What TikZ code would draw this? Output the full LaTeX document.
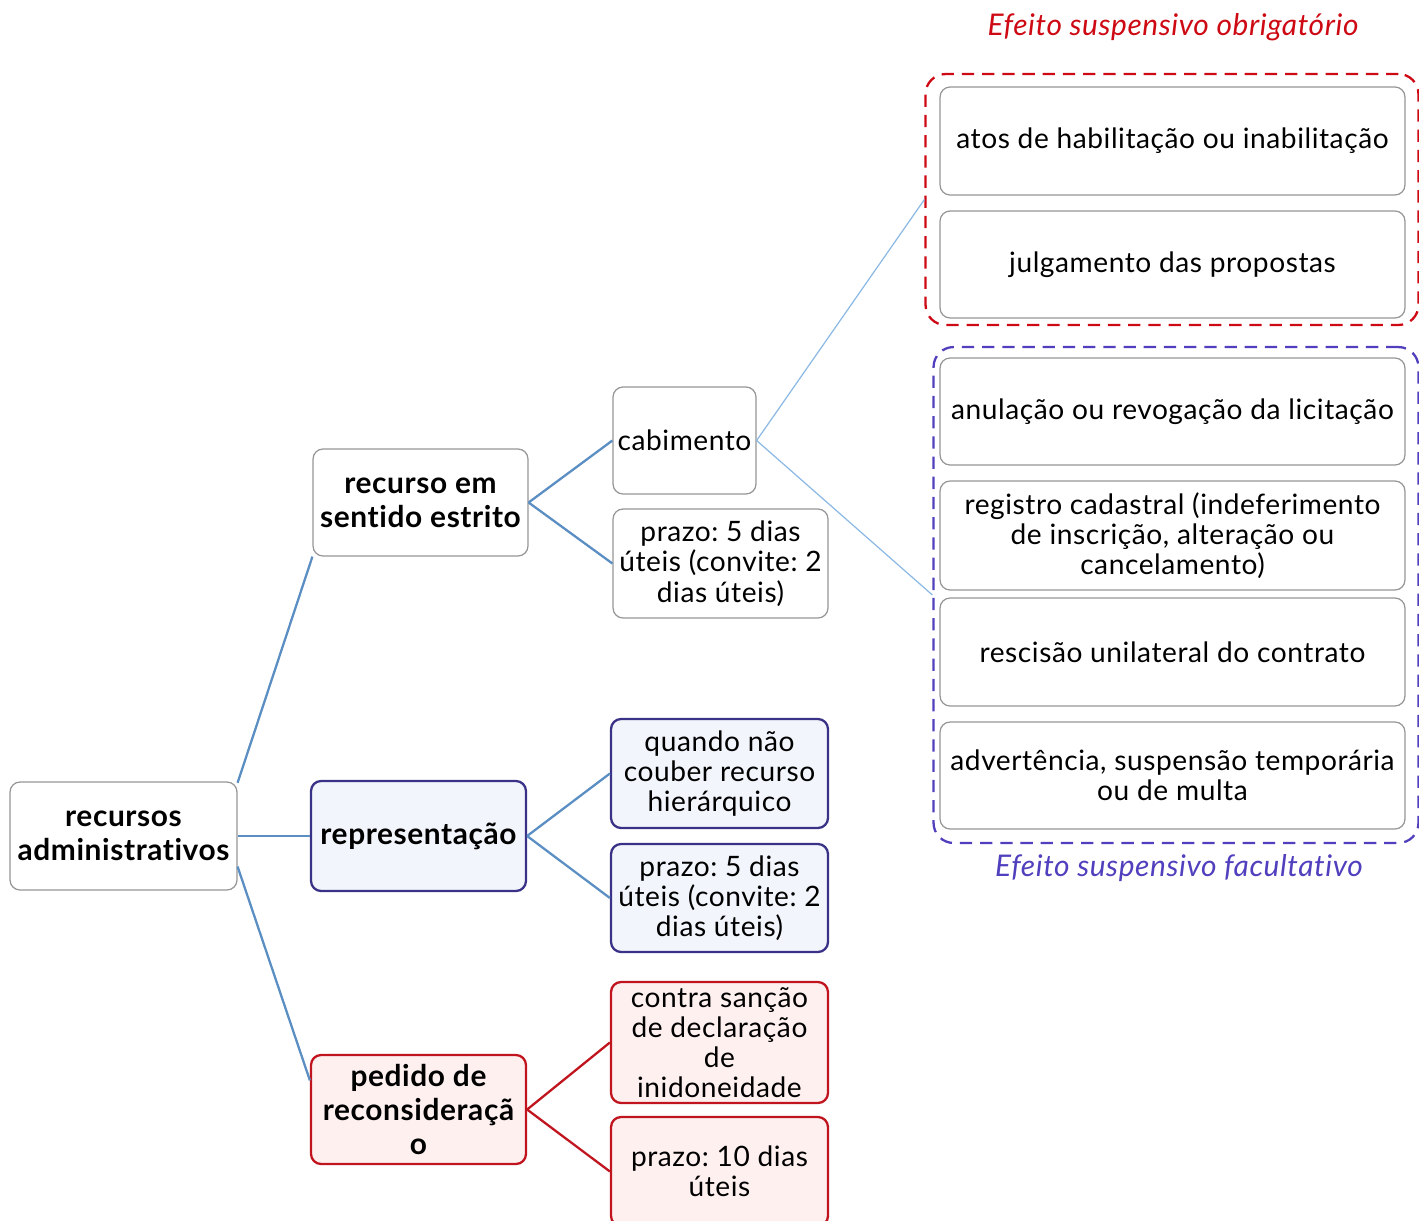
\documentclass[tikz,border=0pt]{standalone}
\usepackage{fontspec}
\setmainfont{Lato}[LetterSpace=2, Ligatures=NoCommon]
\frenchspacing
\definecolor{boxgray}{RGB}{150,150,150}
\definecolor{linkblue}{RGB}{91,142,194}
\definecolor{lightlink}{RGB}{140,185,228}
\definecolor{repborder}{RGB}{58,50,135}
\definecolor{repfill}{RGB}{243,245,252}
\definecolor{pedborder}{RGB}{192,20,30}
\definecolor{pedfill}{RGB}{255,240,240}
\definecolor{obrigred}{RGB}{205,10,20}
\definecolor{facultblue}{RGB}{80,64,190}
\begin{document}
\begin{tikzpicture}[x=0.02cm, y=-0.02cm,
    box/.style={draw=boxgray, line width=0.7pt, rounded corners=0.2cm, fill=white,
        align=center, inner sep=0pt, font=\fontsize{16}{17.2}\selectfont},
    head/.style={box, font=\fontsize{17}{19.4}\selectfont\bfseries},
    repbox/.style={draw=repborder, line width=1.3pt, fill=repfill},
    pedbox/.style={draw=pedborder, line width=1.3pt, fill=pedfill},
    link/.style={linkblue, line width=1.3pt},
    thinlink/.style={lightlink, line width=0.7pt},
    group/.style={dashed, dash pattern=on 7pt off 4.5pt, line width=1.3pt, rounded corners=0.4cm},
    grouptxt/.style={font=\fontsize{17}{19}\selectfont\itshape}]
    \useasboundingbox (0,0) rectangle (1419,1220);

    % left column
    \node[head, minimum width=4.54cm, minimum height=2.16cm] (root) at (123.5,836) {recursos\\administrativos};
    \node[head, minimum width=4.3cm, minimum height=2.14cm] (rse) at (420.5,502.5) {recurso em\\sentido estrito};
    \node[head, repbox, minimum width=4.3cm, minimum height=2.2cm] (rep) at (418.5,836) {representação};
    \node[head, pedbox, minimum width=4.3cm, minimum height=2.18cm] (ped) at (418.5,1109.5) {pedido de\\reconsideraçã\\o};

    % middle column
    \node[box, minimum width=2.86cm, minimum height=2.14cm] (cab) at (684.5,440.5) {cabimento};
    \node[box, minimum width=4.3cm, minimum height=2.18cm] (prazoA) at (720.5,563.5) {prazo: 5 dias\\úteis (convite: 2\\dias úteis)};
    \node[box, repbox, minimum width=4.34cm, minimum height=2.18cm] (quando) at (719.5,773.5) {quando não\\couber recurso\\hierárquico};
    \node[box, repbox, minimum width=4.34cm, minimum height=2.16cm] (prazoB) at (719.5,898) {prazo: 5 dias\\úteis (convite: 2\\dias úteis)};
    \node[box, pedbox, minimum width=4.34cm, minimum height=2.42cm] (contra) at (719.5,1042.5) {contra sanção\\de declaração\\de\\inidoneidade};
    \node[box, pedbox, minimum width=4.34cm, minimum height=2.18cm] (prazoC) at (719.5,1171.5) {prazo: 10 dias\\úteis};

    % right column
    \node[group, draw=obrigred, minimum width=9.86cm, minimum height=5.02cm] (obrig) at (1172,199.5) {};
    \node[group, draw=facultblue, minimum width=9.7cm, minimum height=9.92cm] (facult) at (1176,595) {};
    \node[box, minimum width=9.3cm, minimum height=2.16cm] (atos) at (1172.5,141) {atos de habilitação ou inabilitação};
    \node[box, minimum width=9.3cm, minimum height=2.14cm] (julg) at (1172.5,264.5) {julgamento das propostas};
    \node[box, minimum width=9.3cm, minimum height=2.14cm] (anul) at (1172.5,411.5) {anulação ou revogação da licitação};
    \node[box, minimum width=9.3cm, minimum height=2.18cm] (reg) at (1172.5,535.5) {registro cadastral (indeferimento\\de inscrição, alteração ou\\cancelamento)};
    \node[box, minimum width=9.3cm, minimum height=2.16cm] (resc) at (1172.5,652) {rescisão unilateral do contrato};
    \node[box, minimum width=9.3cm, minimum height=2.14cm] (adv) at (1172.5,775.5) {advertência, suspensão temporária\\ou de multa};
    \node[grouptxt, text=obrigred] (obrigtxt) at (1173,27) {Efeito suspensivo obrigatório};
    \node[grouptxt, text=facultblue] (faculttxt) at (1179,868) {Efeito suspensivo facultativo};

    % connectors
    \draw[link] (root.25) -- (rse.south west);
    \draw[link] (root.east) -- (rep.west);
    \draw[link] (root.-15) -- (ped.165);
    \draw[link] (rse.east) -- (cab.west);
    \draw[link] (rse.east) -- (prazoA.west);
    \draw[link] (rep.east) -- (quando.west);
    \draw[link] (rep.east) -- (prazoB.west);
    \draw[pedborder, line width=1.3pt] (ped.east) -- (contra.west);
    \draw[pedborder, line width=1.3pt] (ped.east) -- (prazoC.west);
    \draw[thinlink] (cab.east) -- (obrig.west);
    \draw[thinlink] (cab.east) -- (facult.west);
\end{tikzpicture}
\end{document}
